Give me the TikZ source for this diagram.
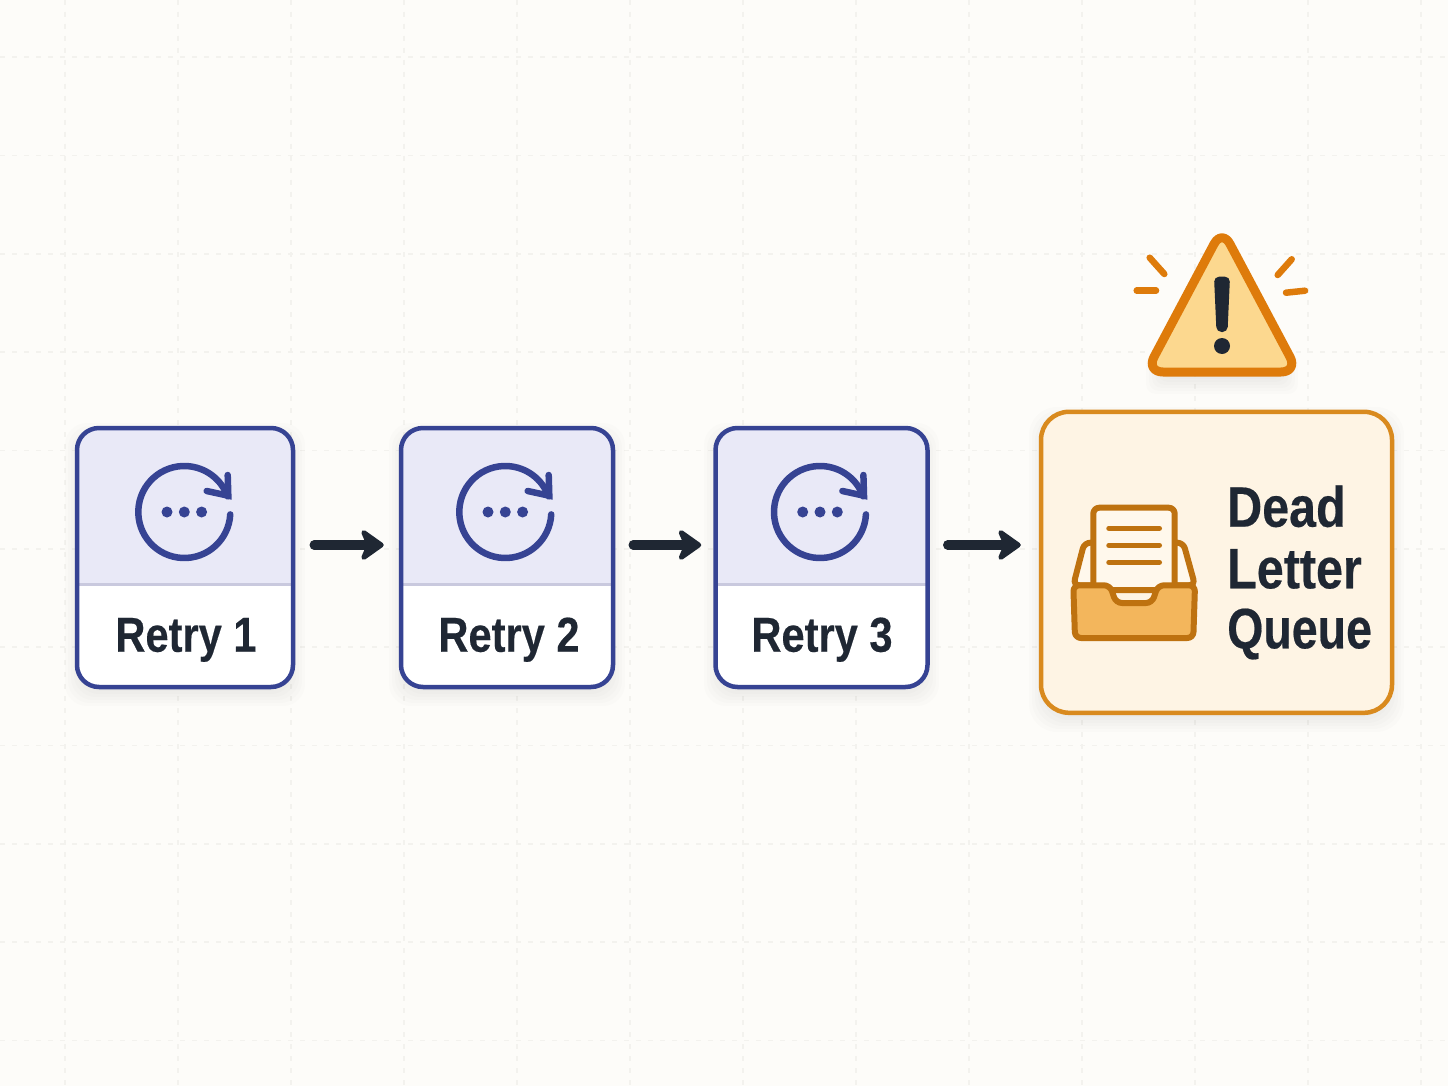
\documentclass[tikz,border=0pt]{standalone}
\usepackage{fontspec}
\setmainfont{Liberation Sans}[FakeStretch=0.85,BoldFeatures={FakeBold=0.35}]
\usetikzlibrary{arrows.meta}
\definecolor{bgc}{HTML}{FDFCF9}
\definecolor{gridc}{HTML}{F3F2EE}
\definecolor{navy}{HTML}{364393}
\definecolor{hdrc}{HTML}{E9E9F7}
\definecolor{sepc}{HTML}{C9C9DE}
\definecolor{ink}{HTML}{1F2733}
\definecolor{dlqline}{HTML}{D98A1E}
\definecolor{dlqfill}{HTML}{FEF4E4}
\definecolor{traydk}{HTML}{BE7210}
\definecolor{trayfill}{HTML}{F3B65C}
\definecolor{paperc}{HTML}{FFF8EC}
\definecolor{warnline}{HTML}{DE7B0B}
\definecolor{warnfill}{HTML}{FCD88F}
\tikzset{
  gridline/.style={gridc,line width=1.2pt,dash pattern=on 5pt off 7pt},
  retrybox/.style={draw=navy,fill=white,line width=4.5pt,rounded corners=22pt,minimum height=259pt,inner sep=0pt,
    path picture={
      \fill[hdrc,sharp corners] (path picture bounding box.north west) rectangle ++(300,156);
      \fill[sepc,sharp corners] ([yshift=-155pt]path picture bounding box.north west) rectangle ++(300,3);
    }},
  retrylabel/.style={anchor=base,text=ink,font=\fontsize{49}{49}\selectfont\bfseries,inner sep=0pt},
  dlqlabel/.style={anchor=base west,text=ink,font=\fontsize{57}{57}\selectfont\bfseries,inner sep=0pt},
  flow/.style={ink,line width=9.5pt,line cap=round,-{Stealth[round,length=27pt,width=38pt,inset=8pt]}},
  ray/.style={warnline,line width=6.5pt,line cap=round},
  icon/.style={navy,line width=6.5pt,line cap=round},
  tray/.style={traydk,line width=6pt,line join=round,rounded corners=6pt},
}
\newcommand{\softbox}[5]{%
  \foreach \e in {12,9,6,3,0,-3}{%
    \fill[black,opacity=.013,rounded corners=#5] (#1-\e,#2-\e+7) rectangle (#3+\e,#4+\e+7);
  }}
\newcommand{\retryicon}[2]{%
  \begin{scope}[shift={(#1,#2)},x=1pt,y=1pt]
    \draw[icon] ({46*cos(-3)},{46*sin(-3)}) arc[start angle=-3,end angle=-340,radius=46];
    \draw[icon,line join=miter] (43.4,37) -- (44,16.3) -- (22.4,21);
    \foreach \d in {-17.3,0,17.3}{\fill[navy] (\d,0) circle[radius=5.5];}
  \end{scope}}
\begin{document}
\begin{tikzpicture}[x=1pt,y=-1pt]
  \useasboundingbox (0,0) rectangle (1448,1086);
  \fill[bgc] (0,0) rectangle (1448,1086);
  \foreach \gx in {65,178,291,404,517,630,743,856,969,1082,1195,1308,1421}{\draw[gridline] (\gx,0) -- (\gx,1086);}
  \foreach \gy in {57,155.5,254,352,450.5,549,647,745.5,844,942,1040.5}{\draw[gridline] (0,\gy) -- (1448,\gy);}

  % shadows
  \softbox{77}{428}{293}{687}{22pt}
  \softbox{401}{428}{613}{687}{22pt}
  \softbox{716}{428}{927}{687}{22pt}
  \softbox{1041}{412}{1392}{713}{28pt}
  \softbox{1158}{358}{1286}{375}{10pt}

  % retry cards
  \node[retrybox,minimum width=216pt] (r1) at (185,557.5) {};
  \node[retrybox,minimum width=212pt] (r2) at (507,557.5) {};
  \node[retrybox,minimum width=212pt] (r3) at (821.5,557.5) {};
  \retryicon{184.3}{512}
  \retryicon{505.3}{512}
  \retryicon{820}{512}
  \node[retrylabel] (l1) at (186,651.7) {Retry 1};
  \node[retrylabel] (l2) at (509,651.7) {Retry 2};
  \node[retrylabel] (l3) at (822,651.7) {Retry 3};

  % dead letter queue
  \node[draw=dlqline,fill=dlqfill,line width=4.5pt,rounded corners=28pt,minimum width=351pt,minimum height=301pt,inner sep=0pt] (dlq) at (1216.5,562.3) {};
  \node[dlqlabel] (t1) at (1227,526.7) {Dead};
  \node[dlqlabel] (t2) at (1227,588.3) {Letter};
  \node[dlqlabel,xscale=.96,transform shape] (t3) at (1227,648.3) {Queue};

  % inbox
  \draw[tray,fill=paperc] (1073.3,585.3) -- (1084.3,542.7) -- (1183.3,542.7) -- (1195,585.3) -- cycle;
  \draw[tray,fill=paperc] (1093.3,590) -- (1093.3,507.7) -- (1174.7,507.7) -- (1174.7,590) -- cycle;
  \foreach \ly in {528.3,545.3,562.3}{\draw[traydk,line width=5.5pt,line cap=round] (1109,\ly) -- (1159.3,\ly);}
  \draw[tray,fill=trayfill] (1073.3,585.3) -- (1110,585.3) -- (1116,603) -- (1152,603) -- (1158,585.3) -- (1195,585.3) -- (1193.3,638) -- (1075,638) -- cycle;

  % warning sign
  \draw[warnline,fill=warnfill,line width=9pt,rounded corners=17pt,line join=round] (1222,229) -- (1298,372) -- (1146,372) -- cycle;
  \fill[ink,rounded corners=5pt] (1214,276.7) -- (1230,276.7) -- (1227.5,332) -- (1216.5,332) -- cycle;
  \fill[ink] (1222,346) circle[radius=8];
  \draw[ray] (1149.7,257.7) -- (1164.3,274);
  \draw[ray] (1136.7,290.7) -- (1156,290.7);
  \draw[ray] (1291.7,259.3) -- (1277.7,275);
  \draw[ray] (1305,290.7) -- (1286,292.7);

  % connectors
  \coordinate (ay) at (0,545);
  \draw[flow,shorten <=19pt,shorten >=15pt] (r1.east |- ay) -- (r2.west |- ay);
  \draw[flow,shorten <=18pt,shorten >=12pt] (r2.east |- ay) -- (r3.west |- ay);
  \draw[flow,shorten <=18pt,shorten >=18pt] (r3.east |- ay) -- (dlq.west |- ay);
\end{tikzpicture}
\end{document}
